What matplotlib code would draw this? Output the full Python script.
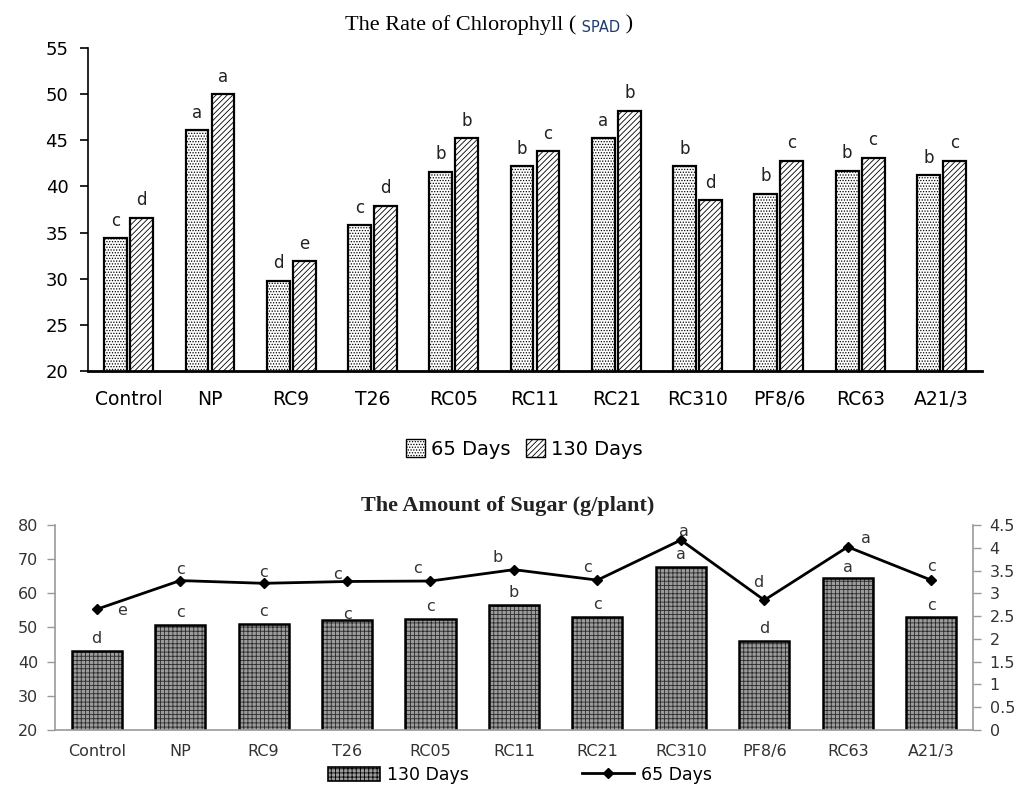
import numpy as np
import matplotlib
matplotlib.use("Agg")
import matplotlib.pyplot as plt
from matplotlib.patches import Patch
from matplotlib.lines import Line2D

# Data
treatments = ["Control", "NP", "RC9", "T26", "RC05", "RC11", "RC21", "RC310", "PF8/6", "RC63", "A21/3"]

# Chlorophyll (SPAD)
spad_65 = [34.4, 46.1, 29.8, 35.8, 41.6, 42.2, 45.2, 42.2, 39.2, 41.7, 41.2]
spad_130 = [36.6, 50.0, 31.9, 37.9, 45.2, 43.8, 48.2, 38.5, 42.8, 43.1, 42.8]
spad_65_letters = ["c", "a", "d", "c", "b", "b", "a", "b", "b", "b", "b"]
spad_130_letters = ["d", "a", "e", "d", "b", "c", "b", "d", "c", "c", "c"]

# Sugar (g/plant)
sugar_130 = [43.0, 50.6, 50.9, 52.2, 52.4, 56.6, 53.1, 67.6, 46.1, 64.4, 53.1]
sugar_65 = [2.65, 3.28, 3.22, 3.26, 3.27, 3.52, 3.29, 4.17, 2.85, 4.02, 3.29]
sugar_130_letters = ["d", "c", "c", "c", "c", "b", "c", "a", "d", "a", "c"]
sugar_65_letters = ["e", "c", "c", "c", "c", "b", "c", "a", "d", "a", "c"]

# label offsets (points) for the line letters, to keep them clear of the line
line_lbl_dx = [18, 0, 0, -7, -9, -12, -7, 2, -4, 13, 0]
line_lbl_dy = [-1, 8, 8, 5, 9, 9, 9, 6, 13, 6, 10]
bar_lbl_dy = [9, 9, 9, 4, 9, 9, 9, 9, 9, 8, 8]

plt.rcParams["hatch.linewidth"] = 0.6
sans = "DejaVu Sans"
serif = "Liberation Serif"

fig = plt.figure(figsize=(10.16, 7.85), dpi=100)

# ---------------- top chart ----------------
ax1 = fig.add_axes([0.0866, 0.5274, 0.88, 0.4115])
x = np.arange(len(treatments))
w = 0.28
gap = 0.04
ax1.bar(x - w / 2 - gap / 2, spad_65, w, facecolor="white",
        edgecolor="black", hatch="......", linewidth=1.6)
ax1.bar(x + w / 2 + gap / 2, spad_130, w, facecolor="white",
        edgecolor="black", hatch="//////", linewidth=1.6)

for i in range(len(treatments)):
    ax1.annotate(spad_65_letters[i], (x[i] - w / 2 - gap / 2, spad_65[i]),
                 xytext=(0, 6), textcoords="offset points", ha="center",
                 va="bottom", fontsize=12, family=sans, color="#222222")
    ax1.annotate(spad_130_letters[i], (x[i] + w / 2 + gap / 2, spad_130[i]),
                 xytext=(0, 6), textcoords="offset points", ha="center",
                 va="bottom", fontsize=12, family=sans, color="#222222")

ax1.set_ylim(20, 55)
ax1.set_xlim(-0.5, 10.5)
ax1.set_yticks(range(20, 56, 5))
ax1.set_xticks(x)
ax1.set_xticklabels(treatments, fontsize=13.5, family=sans)
ax1.tick_params(axis="x", length=0, pad=14)
ax1.tick_params(axis="y", labelsize=13, length=6, width=1.2, direction="out", pad=8)
for lab in ax1.get_yticklabels():
    lab.set_family(sans)
ax1.spines["top"].set_visible(False)
ax1.spines["right"].set_visible(False)
ax1.spines["left"].set_linewidth(1.2)
ax1.spines["bottom"].set_linewidth(2)

# title with a blue "SPAD" in a different font
t1 = fig.text(0.34, 0.962, "The Rate of Chlorophyll (", fontsize=16, family=serif,
              ha="left", va="baseline")
t2 = ax1.annotate(" SPAD", xy=(1, 0), xycoords=t1, va="bottom", ha="left",
                  fontsize=10.5, family=sans, color="#1f3a6e")
ax1.annotate(" )", xy=(1, 0), xycoords=t2, va="bottom", ha="left",
             fontsize=16, family=serif)

h1 = Patch(facecolor="white", edgecolor="black", hatch="......", linewidth=1)
h2 = Patch(facecolor="white", edgecolor="black", hatch="//////", linewidth=1)
fig.legend([h1, h2], ["65 Days", "130 Days"], loc="center", ncol=2,
           bbox_to_anchor=(0.516, 0.428), frameon=False, handlelength=1.0,
           handleheight=1.0, handletextpad=0.3, columnspacing=0.8,
           prop={"family": sans, "size": 14})

# ---------------- bottom chart ----------------
ax2 = fig.add_axes([0.0541, 0.0701, 0.9035, 0.2611])
bw = 0.6
ax2.bar(x, sugar_130, bw, facecolor="#9c9c9c", edgecolor="#2a2a2a",
        hatch="++++", linewidth=0)
ax2.bar(x, sugar_130, bw, fill=False, edgecolor="black", linewidth=1.8)
for i in range(len(treatments)):
    ax2.annotate(sugar_130_letters[i], (x[i], sugar_130[i]),
                 xytext=(0, bar_lbl_dy[i]), textcoords="offset points",
                 ha="center", va="center", fontsize=11.5, family=sans,
                 color="#333333")

ax2.set_ylim(20, 80)
ax2.set_xlim(-0.5, 10.5)
ax2.set_yticks(range(20, 81, 10))
ax2.set_xticks(x)
ax2.set_xticklabels(treatments, fontsize=11.5, family=sans, color="#333333")
ax2.tick_params(axis="x", length=0, pad=10)
ax2.tick_params(axis="y", labelsize=11.5, length=6, width=1, color="#999999",
                labelcolor="#333333", pad=6)
for sp in ["left", "bottom"]:
    ax2.spines[sp].set_color("#999999")
    ax2.spines[sp].set_linewidth(1.2)
ax2.spines["top"].set_visible(False)
ax2.spines["right"].set_visible(False)

ax3 = ax2.twinx()
ax3.plot(x, sugar_65, color="black", linewidth=2, marker="D", markersize=5)
for i in range(len(treatments)):
    ax3.annotate(sugar_65_letters[i], (x[i], sugar_65[i]),
                 xytext=(line_lbl_dx[i], line_lbl_dy[i]), textcoords="offset points",
                 ha="center", va="center", fontsize=11.5, family=sans,
                 color="#333333")
ax3.set_ylim(0, 4.5)
ax3.set_yticks(np.arange(0, 4.51, 0.5))
ax3.set_yticklabels(["0", "0.5", "1", "1.5", "2", "2.5", "3", "3.5", "4", "4.5"])
ax3.tick_params(axis="y", labelsize=11.5, length=6, width=1, color="#999999",
                labelcolor="#333333", pad=6)
for lab in ax3.get_yticklabels() + ax2.get_yticklabels():
    lab.set_family(sans)
ax3.spines["right"].set_color("#999999")
ax3.spines["right"].set_linewidth(1.2)
for sp in ["top", "left", "bottom"]:
    ax3.spines[sp].set_visible(False)

fig.text(0.5, 0.356, "The Amount of Sugar (g/plant)", fontsize=16, family=serif,
         fontweight="bold", ha="center", va="center", color="#222222")

h3 = Patch(facecolor="#9c9c9c", edgecolor="black", hatch="++++", linewidth=1.2)
h4 = Line2D([], [], color="black", linewidth=2, marker="D", markersize=5)
fig.legend([h3, h4], ["130 Days", "65 Days"], loc="center", ncol=2,
           bbox_to_anchor=(0.512, 0.013), frameon=False, handlelength=3.0,
           handleheight=0.9, handletextpad=0.4, columnspacing=6.5,
           prop={"family": sans, "size": 12.5})

fig.savefig("out.png", dpi=100)
